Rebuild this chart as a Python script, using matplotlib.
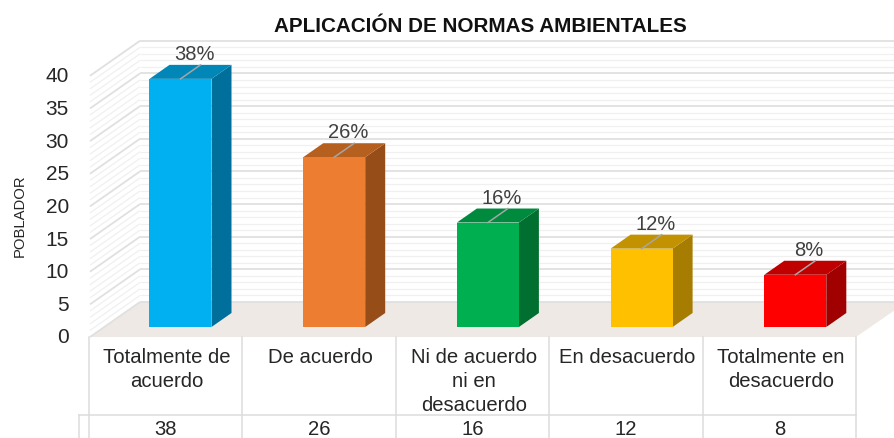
import matplotlib
matplotlib.use("Agg")
import matplotlib.pyplot as plt
from matplotlib.patches import Polygon

plt.rcParams['font.family'] = ['Liberation Sans', 'DejaVu Sans']

title = "APLICACIÓN DE NORMAS AMBIENTALES"
ylabel = "POBLADOR"
categories = ["Totalmente de\nacuerdo", "De acuerdo", "Ni de acuerdo\nni en\ndesacuerdo", "En desacuerdo", "Totalmente en\ndesacuerdo"]
values = [38, 26, 16, 12, 8]
percents = ["38%", "26%", "16%", "12%", "8%"]
front_colors = ["#00B0F0", "#ED7D31", "#00B050", "#FFC000", "#FF0000"]
top_colors = ["#0087B8", "#B5601F", "#008A3E", "#C29200", "#C00000"]
side_colors = ["#006F9C", "#964D18", "#006F30", "#A67D00", "#A00000"]
yticks = [0, 5, 10, 15, 20, 25, 30, 35, 40]

W, H = 895, 439
fig = plt.figure(figsize=(W / 100, H / 100), dpi=100)
ax = fig.add_axes([0, 0, 1, 1])
ax.axis("off")

# data scale: 1 category = 153.7 px, 1 value unit = 6.53 px
XU, YU = 153.7, 6.53
X0, Y0 = 180.5, 328.0
ax.set_xlim(-X0 / XU, (W - X0) / XU)
ax.set_ylim((Y0 - H) / YU, Y0 / YU)

HW = 31 / XU
DX, DY = 20 / XU, 14 / YU            # bar depth
def px(p): return (p - X0) / XU      # pixel helpers for chart furniture
def py(p): return (Y0 - p) / YU

# walls
fl, bl = px(90), px(140)
fr, br = px(856), px(895)
v_front = py(338)
v_back = py(303)
ax.add_patch(Polygon([(fl, v_front), (bl, v_back), (px(897), v_back), (br, py(311)), (fr, v_front)],
                     closed=True, fc="#EFE9E5", ec="none", zorder=1))
for v in range(0, 41):
    major = v % 5 == 0
    c = "#E0E0E0" if major else "#F0F0F0"
    lw = 1.3 if major else 0.9
    yb = v_back + v
    ax.plot([bl, br], [yb, yb], color=c, lw=lw, zorder=2, solid_capstyle="butt")
    ax.plot([fl, bl], [v_front + v, yb], color=c, lw=lw, zorder=2, solid_capstyle="butt")

# bars
for i, (val, fc, tc, sc, pct) in enumerate(zip(values, front_colors, top_colors, side_colors, percents)):
    l, r = i - HW, i + HW
    ax.add_patch(Polygon([(r, 0), (r + DX, DY), (r + DX, val + DY), (r, val)], closed=True, fc=sc, ec="none", zorder=3))
    ax.add_patch(Polygon([(l, val), (l + DX, val + DY), (r + DX, val + DY), (r, val)], closed=True, fc=tc, ec="none", zorder=3))
    ax.add_patch(Polygon([(l, 0), (r, 0), (r, val), (l, val)], closed=True, fc=fc, ec="none", zorder=4))
    ax.plot([i, i + DX], [val, val + DY], color="#A6A6A6", lw=1.1, zorder=5)
    ax.text(i + 0.09, val + DY + 0.3, pct, ha="center", va="bottom", fontsize=14.5, color="#404040", zorder=6)

# y tick labels
for t in yticks:
    ax.text(px(69), v_front + t, str(t), ha="right", va="center", fontsize=15, color="#262626")

# table
line = "#DCDCDC"
table_y = py(416)
bottom = py(439)
edges = [px(89 + k * 153.4) for k in range(6)]
for k, e in enumerate(edges):
    ax.plot([e, e], [v_front, bottom], color=line, lw=1.1, zorder=2)
ax.plot([px(79), px(79)], [table_y, bottom], color=line, lw=1.1, zorder=2)
ax.plot([px(79), edges[-1]], [table_y, table_y], color=line, lw=1.1, zorder=2)
for i, (cat, val) in enumerate(zip(categories, values)):
    cx = (edges[i] + edges[i + 1]) / 2
    ax.text(cx + 1.5 / XU, py(348), cat, ha="center", va="top", fontsize=14.6, color="#262626", linespacing=1.33)
    ax.text(cx, py(430), str(val), ha="center", va="center", fontsize=14.6, color="#262626")

ax.text(px(480), py(26), title, ha="center", va="center", fontsize=14.9, fontweight="bold", color="#111111")
ax.text(px(20), py(216), ylabel, ha="center", va="center", rotation=90, fontsize=10.7, color="#262626")

fig.savefig("out.png", dpi=100)
